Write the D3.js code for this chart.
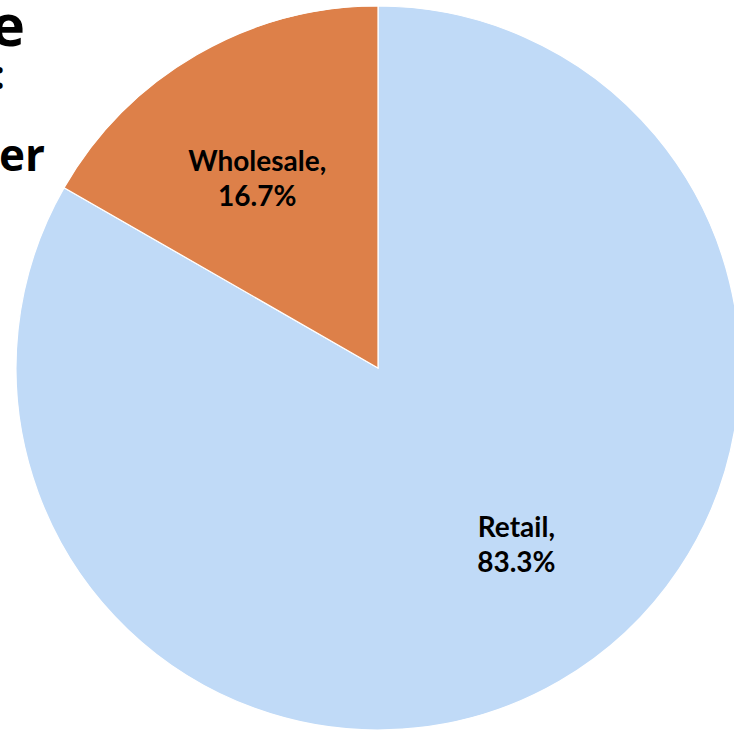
<!DOCTYPE html>
<html>
<head>
<meta charset="utf-8">
<script src="https://cdn.jsdelivr.net/npm/d3@7"></script>
<style>
  html, body { margin: 0; padding: 0; background: #ffffff; overflow: hidden; }
  svg { display: block; }
</style>
</head>
<body>
<svg id="chart" width="734" height="731"></svg>
<script>
// Sales split by customer type
const categories = ["Retail", "Wholesale"];
const shares = [83.3, 16.7];
const sliceColors = ["#C0DAF7", "#DD8049"];
const titleLines = ["Revenue Share by Sale", "Type:", "by Customer"];

const width = 734, height = 731;
const cx = 378, cy = 368, radius = 362;

const svg = d3.select("#chart");

// Title block, running off the left edge of the page
const titleStyle = [
  { x: 25, y: 46, size: 58 },
  { x: 5, y: 89, size: 40 },
  { x: 45, y: 171, size: 44 }
];
titleLines.forEach((t, i) => {
  svg.append("text")
    .attr("x", titleStyle[i].x)
    .attr("y", titleStyle[i].y)
    .attr("text-anchor", "end")
    .attr("font-family", "'Open Sans', 'Liberation Sans', sans-serif")
    .attr("font-weight", 700)
    .attr("font-size", titleStyle[i].size)
    .attr("fill", "#000")
    .text(t);
});

const data = categories.map((c, i) => ({ name: c, value: shares[i], color: sliceColors[i] }));

const pie = d3.pie().sort(null).value(d => d.value);
const arc = d3.arc().innerRadius(0).outerRadius(radius);

const g = svg.append("g").attr("transform", `translate(${cx},${cy})`);
const arcs = pie(data);

g.selectAll("path.slice")
  .data(arcs)
  .join("path")
  .attr("class", "slice")
  .attr("d", arc)
  .attr("fill", d => d.data.color)
  .attr("stroke", "#ffffff")
  .attr("stroke-width", 1.2);

// Data labels sit inside each slice, slightly turned toward the slice start
const labelRadius = radius * 0.62;
const labelTurn = [-8, -2.5];
function labelPos(d, i) {
  const a = (d.startAngle + d.endAngle) / 2 + labelTurn[i] * Math.PI / 180;
  return [labelRadius * Math.sin(a), -labelRadius * Math.cos(a)];
}

const fmt = d3.format(".1f");
const labels = g.selectAll("text.lbl")
  .data(arcs)
  .join("text")
  .attr("class", "lbl")
  .attr("text-anchor", "middle")
  .attr("font-family", "Lato, 'DejaVu Sans', sans-serif")
  .attr("font-weight", 700)
  .attr("font-size", 28)
  .attr("fill", "#000")
  .attr("transform", (d, i) => {
    const [x, y] = labelPos(d, i);
    return `translate(${x},${y})`;
  });
labels.append("tspan").attr("x", 0).attr("dy", -8).text(d => d.data.name + ",");
labels.append("tspan").attr("x", 0).attr("dy", 35).text(d => fmt(d.data.value) + "%");
</script>
</body>
</html>
